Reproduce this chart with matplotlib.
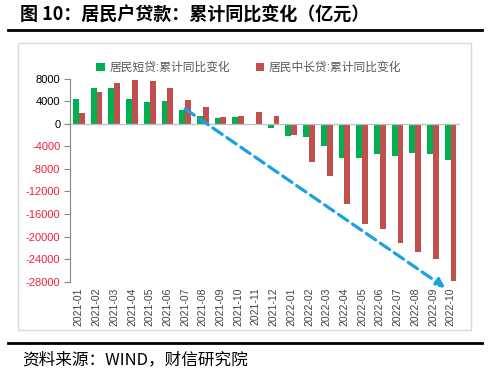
import matplotlib
matplotlib.use("Agg")
import matplotlib.pyplot as plt
from matplotlib.patches import Rectangle
from matplotlib.lines import Line2D

plt.rcParams['font.family'] = ['Liberation Sans', 'Noto Sans CJK SC', 'DejaVu Sans']

# ==========================================================
# DATA (亿元)
# ==========================================================

months = [
    "2021-01", "2021-02", "2021-03", "2021-04", "2021-05", "2021-06",
    "2021-07", "2021-08", "2021-09", "2021-10", "2021-11", "2021-12",
    "2022-01", "2022-02", "2022-03", "2022-04", "2022-05", "2022-06",
    "2022-07", "2022-08", "2022-09", "2022-10",
]

short_loans = [
    4400, 6300, 6300, 4400, 3900, 4000,
    2500, 1300, 1000, 1200, 0, -700,
    -2200, -2400, -3900, -6100, -6100, -5400,
    -5700, -5200, -5400, -6400,
]

long_loans = [
    1900, 5700, 7200, 7800, 7500, 6300,
    4200, 2900, 1200, 1300, 2100, 1300,
    -1900, -6700, -9200, -14300, -17700, -18700,
    -21100, -22700, -24000, -27800,
]

yticks = [8000, 4000, 0, -4000, -8000, -12000, -16000, -20000, -24000, -28000]

label_short = "居民短贷:累计同比变化"
label_long = "居民中长贷:累计同比变化"

# trend arrow: (category, value) start and end
arrow_from = ("2021-07", 2650)
arrow_to = ("2022-10", -29100)

# ==========================================================
# FIGURE
# ==========================================================

fig = plt.figure(figsize=(5, 3.77), dpi=100)

ax = fig.add_axes([0.14, 0.2528, 0.779, 0.5385])

x = list(range(len(months)))
w = 0.33

bars1 = ax.bar([i - w / 2 for i in x], short_loans, width=w,
               color="#00B050", label=label_short)
bars2 = ax.bar([i + w / 2 for i in x], long_loans, width=w,
               color="#C0504D", label=label_long)

ax.set_xlim(-0.5, len(months) - 0.5)
ax.set_ylim(yticks[-1], yticks[0])

ax.set_yticks(yticks)
ax.set_yticklabels([str(v) for v in yticks], fontsize=8)
for lab, v in zip(ax.get_yticklabels(), yticks):
    lab.set_color("#F0203A" if v < 0 else "#000000")

ax.set_xticks(x)
ax.set_xticklabels(months, rotation=90, fontsize=7.5, color="#404040")
ax.tick_params(axis="x", length=0, pad=4)
ax.tick_params(axis="y", length=4, color="#868686", width=0.8, pad=3)

for s in ["top", "right", "bottom"]:
    ax.spines[s].set_visible(False)
ax.spines["left"].set_color("#868686")
ax.spines["left"].set_linewidth(0.8)

ax.axhline(0, color="#BFBFBF", lw=0.9, zorder=1)

# trend arrow
x0 = months.index(arrow_from[0])
x1 = months.index(arrow_to[0]) - 0.3
ax.annotate(
    "",
    xy=(x1, arrow_to[1]),
    xytext=(x0, arrow_from[1]),
    arrowprops=dict(arrowstyle="-|>", linestyle=(0, (3.5, 1.8)),
                    color="#1BA1E2", lw=2.3, mutation_scale=13,
                    shrinkA=0, shrinkB=0),
    annotation_clip=False,
    zorder=5,
)

fig.legend(
    handles=[bars1, bars2],
    loc="center",
    bbox_to_anchor=(0.498, 0.82),
    ncol=2,
    frameon=False,
    fontsize=8.5,
    handlelength=0.7,
    handleheight=0.7,
    handletextpad=0.4,
    columnspacing=2.2,
    labelcolor="#595959",
)

# -------------------------------------------------
# Frame, title and source
# -------------------------------------------------

fig.patches.append(Rectangle((0.036, 0.1247), 0.906, 0.761,
                             transform=fig.transFigure, fill=False,
                             edgecolor="#D9D9D9", lw=1))

fig.lines.append(Line2D([0.016, 0.964], [0.920, 0.920],
                        transform=fig.transFigure, color="black", lw=2))
fig.lines.append(Line2D([0.016, 0.964], [0.090, 0.090],
                        transform=fig.transFigure, color="black", lw=2))

fig.text(0.04, 0.960, "图 10：居民户贷款：累计同比变化（亿元）",
         fontsize=13, fontweight="bold", va="center", ha="left",
         family=["Noto Sans CJK SC", "DejaVu Sans"])

fig.text(0.044, 0.045, "资料来源：WIND，财信研究院",
         fontsize=12, va="center", ha="left", style="italic",
         family=["Noto Sans CJK SC", "DejaVu Sans"])

plt.savefig("out.png", dpi=100)
